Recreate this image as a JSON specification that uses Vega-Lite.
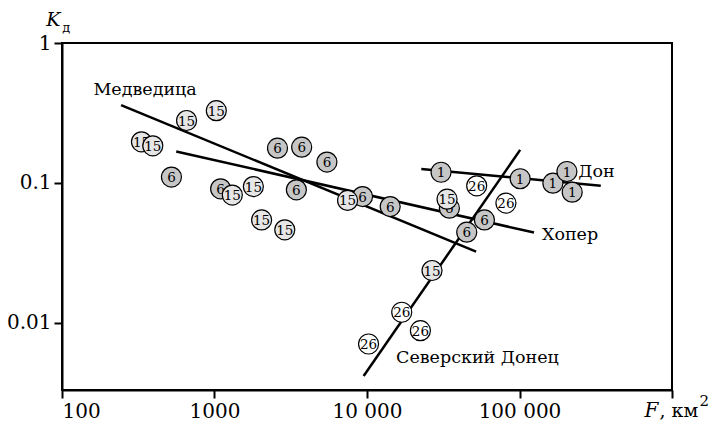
{
  "$schema": "https://vega.github.io/schema/vega-lite/v6.json",
  "width": 610,
  "height": 347,
  "autosize": {"type": "none"},
  "padding": {"left": 62, "top": 43, "right": 39, "bottom": 35},
  "background": "white",
  "config": {
    "font": "DejaVu Serif",
    "view": {"stroke": "black", "strokeWidth": 2},
    "text": {"font": "DejaVu Serif"},
    "axis": {
      "domainColor": "black", "domainWidth": 2, "tickColor": "black", "tickWidth": 2, "tickSize": 8,
      "labelFont": "DejaVu Serif", "labelFontSize": 20, "labelColor": "black", "grid": false, "title": null, "labelPadding": 3
    }
  },
  "datasets": {
    "pts": [
      {"F": 332, "K": 0.1965, "g": "15", "z": 0},
      {"F": 394, "K": 0.184, "g": "15", "z": 1},
      {"F": 656, "K": 0.279, "g": "15", "z": 1},
      {"F": 1028, "K": 0.328, "g": "15", "z": 1},
      {"F": 522, "K": 0.110, "g": "6", "z": 1},
      {"F": 2590, "K": 0.177, "g": "6", "z": 1},
      {"F": 3730, "K": 0.180, "g": "6", "z": 1},
      {"F": 5460, "K": 0.1407, "g": "6", "z": 1},
      {"F": 1097, "K": 0.0906, "g": "6", "z": 0},
      {"F": 1309, "K": 0.0817, "g": "15", "z": 1},
      {"F": 1799, "K": 0.094, "g": "15", "z": 1},
      {"F": 3443, "K": 0.0891, "g": "6", "z": 1},
      {"F": 2037, "K": 0.0543, "g": "15", "z": 1},
      {"F": 2890, "K": 0.0461, "g": "15", "z": 1},
      {"F": 7460, "K": 0.0749, "g": "15", "z": 1},
      {"F": 9350, "K": 0.0798, "g": "6", "z": 0},
      {"F": 14200, "K": 0.0677, "g": "6", "z": 1},
      {"F": 30600, "K": 0.119, "g": "1", "z": 1},
      {"F": 52400, "K": 0.0952, "g": "26", "z": 1},
      {"F": 101000, "K": 0.107, "g": "1", "z": 1},
      {"F": 33500, "K": 0.0764, "g": "15", "z": 1},
      {"F": 34700, "K": 0.0659, "g": "6", "z": 0},
      {"F": 81500, "K": 0.0716, "g": "26", "z": 1},
      {"F": 58900, "K": 0.0543, "g": "6", "z": 1},
      {"F": 45100, "K": 0.0444, "g": "6", "z": 0},
      {"F": 165600, "K": 0.0995, "g": "1", "z": 0},
      {"F": 204700, "K": 0.1205, "g": "1", "z": 1},
      {"F": 221700, "K": 0.0858, "g": "1", "z": 1},
      {"F": 26700, "K": 0.0236, "g": "15", "z": 1},
      {"F": 16900, "K": 0.01187, "g": "26", "z": 1},
      {"F": 22400, "K": 0.00877, "g": "26", "z": 1},
      {"F": 10240, "K": 0.00704, "g": "26", "z": 1}
    ],
    "lines": [
      {"s": "Медведица", "F": 244, "K": 0.360},
      {"s": "Медведица", "F": 51940, "K": 0.0322},
      {"s": "Хопер", "F": 561, "K": 0.1675},
      {"s": "Хопер", "F": 124500, "K": 0.0441},
      {"s": "Дон", "F": 22700, "K": 0.1256},
      {"s": "Дон", "F": 341000, "K": 0.0955},
      {"s": "Северский Донец", "F": 9505, "K": 0.00415},
      {"s": "Северский Донец", "F": 101000, "K": 0.172}
    ],
    "names": [
      {"t": "Медведица", "F": 160.6, "K": 0.463},
      {"t": "Хопер", "F": 140300, "K": 0.0425},
      {"t": "Дон", "F": 243000, "K": 0.1186},
      {"t": "Северский Донец", "F": 15500, "K": 0.00559}
    ]
  },
  "encoding": {
    "x": {"field": "F", "type": "quantitative", "scale": {"type": "log", "domain": [100, 1000000], "nice": false},
      "axis": {"values": [100, 1000, 10000, 100000, 1000000],
        "labelExpr": "datum.value == 10000 ? '10 000' : datum.value == 100000 ? '100 000' : datum.value >= 1000000 ? '' : format(datum.value, 'd')"}},
    "y": {"field": "K", "type": "quantitative", "scale": {"type": "log", "domain": [0.0033, 1], "nice": false},
      "axis": {"values": [0.01, 0.1, 1], "labelExpr": "datum.value == 1 ? '1' : datum.value == 0.1 ? '0.1' : '0.01'"}}
  },
  "layer": [
    {
      "data": {"name": "lines"},
      "mark": {"type": "line", "color": "black", "strokeWidth": 2.5},
      "encoding": {"detail": {"field": "s"}}
    },
    {
      "data": {"name": "pts"},
      "transform": [{"filter": "datum.z == 0"}],
      "mark": {"type": "point", "shape": "circle", "filled": true, "size": 400, "stroke": "black", "strokeWidth": 1.2, "opacity": 1},
      "encoding": {"fill": {"field": "g", "type": "nominal", "scale": {"domain": ["1", "6", "15", "26"], "range": ["#c6c6c6", "#c6c6c6", "#e6e6e6", "#ffffff"]}, "legend": null}}
    },
    {
      "data": {"name": "pts"},
      "transform": [{"filter": "datum.z == 0"}],
      "mark": {"type": "text", "font": "DejaVu Serif", "fontSize": 13.5, "color": "black", "baseline": "middle", "align": "center", "dy": 1},
      "encoding": {"text": {"field": "g"}}
    },
    {
      "data": {"name": "pts"},
      "transform": [{"filter": "datum.z == 1"}],
      "mark": {"type": "point", "shape": "circle", "filled": true, "size": 400, "stroke": "black", "strokeWidth": 1.2, "opacity": 1},
      "encoding": {"fill": {"field": "g", "type": "nominal", "scale": {"domain": ["1", "6", "15", "26"], "range": ["#c6c6c6", "#c6c6c6", "#e6e6e6", "#ffffff"]}, "legend": null}}
    },
    {
      "data": {"name": "pts"},
      "transform": [{"filter": "datum.z == 1"}],
      "mark": {"type": "text", "font": "DejaVu Serif", "fontSize": 13.5, "color": "black", "baseline": "middle", "align": "center", "dy": 1},
      "encoding": {"text": {"field": "g"}}
    },
    {
      "data": {"name": "names"},
      "mark": {"type": "text", "font": "DejaVu Serif", "fontSize": 17.5, "color": "black", "baseline": "middle", "align": "left"},
      "encoding": {"text": {"field": "t"}}
    },
    {
      "data": {"values": [{"t": "K", "F": 87.7, "K": 1.468}]},
      "mark": {"type": "text", "font": "DejaVu Serif", "fontSize": 19, "fontStyle": "italic", "color": "black", "baseline": "middle", "align": "center"},
      "encoding": {"text": {"field": "t"}}
    },
    {
      "data": {"values": [{"t": "д", "F": 106.5, "K": 1.287}]},
      "mark": {"type": "text", "font": "DejaVu Serif", "fontSize": 13, "color": "black", "baseline": "middle", "align": "center"},
      "encoding": {"text": {"field": "t"}}
    },
    {
      "data": {"values": [{"t": "F", "F": 659000, "K": 0.00233}]},
      "mark": {"type": "text", "font": "DejaVu Serif", "fontSize": 20, "fontStyle": "italic", "color": "black", "baseline": "middle", "align": "left"},
      "encoding": {"text": {"field": "t"}}
    },
    {
      "data": {"values": [{"t": ", км", "F": 828000, "K": 0.00233}]},
      "mark": {"type": "text", "font": "DejaVu Serif", "fontSize": 19, "color": "black", "baseline": "middle", "align": "left"},
      "encoding": {"text": {"field": "t"}}
    },
    {
      "data": {"values": [{"t": "2", "F": 1517000, "K": 0.00275}]},
      "mark": {"type": "text", "font": "DejaVu Serif", "fontSize": 15, "color": "black", "baseline": "middle", "align": "left"},
      "encoding": {"text": {"field": "t"}}
    }
  ]
}
